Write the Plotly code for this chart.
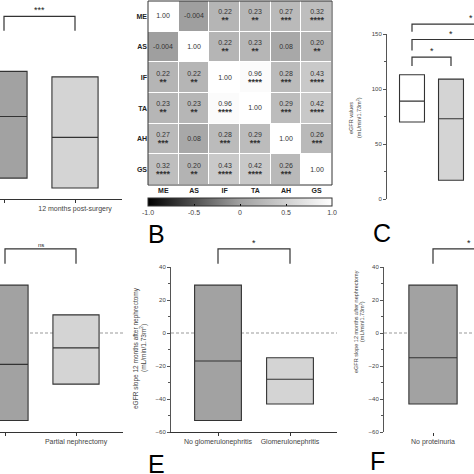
import plotly.graph_objects as go

W = H = 474
FONT = "Liberation Sans, Arial, sans-serif"

# ---------------- data ----------------
a_categories = ["Surgery time", "12 months post-surgery"]
a_min = [19, 10]
a_median = [75, 56]
a_max = [116, 111]

b_labels = ["ME", "AS", "IF", "TA", "AH", "GS"]
b_r = [
    [1.00, -0.004, 0.22, 0.23, 0.27, 0.32],
    [-0.004, 1.00, 0.22, 0.23, 0.08, 0.20],
    [0.22, 0.22, 1.00, 0.96, 0.28, 0.43],
    [0.23, 0.23, 0.96, 1.00, 0.29, 0.42],
    [0.27, 0.08, 0.28, 0.29, 1.00, 0.26],
    [0.32, 0.20, 0.43, 0.42, 0.26, 1.00],
]
b_stars = [
    ["", "", "**", "**", "***", "****"],
    ["", "", "**", "**", "", "**"],
    ["**", "**", "", "****", "***", "****"],
    ["**", "**", "****", "", "***", "****"],
    ["***", "", "***", "***", "", "***"],
    ["****", "**", "****", "****", "***", ""],
]
b_ticks = [-1.0, -0.5, 0, 0.5, 1.0]
b_ticktext = ["-1.0", "-0.5", "0", "0.5", "1.0"]

c_min = [70, 17]
c_median = [89, 73]
c_max = [113, 109]
c_fill = ["#ffffff", "#d4d4d4"]

d_categories = ["Radical surgery", "Partial nephrectomy"]
d_min = [-53, -31]
d_median = [-19, -9]
d_max = [29, 11]

e_categories = ["No glomerulonephritis", "Glomerulonephritis"]
e_min = [-53, -43]
e_median = [-17, -28]
e_max = [29, -15]

f_categories = ["No proteinuria", "Proteinuria"]
f_min = [-43]
f_median = [-15]
f_max = [29]

# brackets: (x0, x1, top, drop, label)
a_brackets = [(0, 1, 166, 153, "***")]
c_brackets = [(0, 1, 129, 121, "*"), (0, 2, 145, 135, "*"), (0, 3, 159, 152, "*")]
d_brackets = [(0, 1, 51, 42, "ns")]
e_brackets = [(0, 1, 51, 42, "*")]
f_brackets = [(0, 1, 51, 42, "*")]

c_title = ["eGFR values", "(mL/min/1.73m<sup>2</sup>)"]
slope_title = ["eGFR slope 12 months after nephrectomy", "(mL/min/1.73m<sup>2</sup>)"]

# ---------------- layout helpers ----------------
def fx(px):
    return px / W

def fy(py):
    return 1 - py / H

DARK = "#a2a2a2"
LIGHT = "#d4d4d4"
LINE = "#333333"
TXT = "#444444"

panels = {
    "A": ("x", "y", (0, 122), (0, 199), [-4 / 71, 118 / 71], [0, 199 / 1.1]),
    "C": ("x3", "y3", (387, 474), (34, 199), [-25 / 39, 62 / 39], [0, 150]),
    "D": ("x4", "y4", (0, 123), (267, 432), [-5 / 71, 118 / 71], [-60, 40]),
    "E": ("x5", "y5", (171, 337), (267, 432), [-47 / 72, 119 / 72], [-60, 40]),
    "F": ("x6", "y6", (384, 474), (267, 432), [-49 / 72, 41 / 72], [-60, 40]),
}

def ypaper(panel, v):
    _, _, _, (ptop, pbot), _, (r0, r1) = panels[panel]
    py = pbot - (v - r0) / (r1 - r0) * (pbot - ptop)
    return fy(py)

fig = go.Figure()

def add_boxes(panel, mins, meds, maxs, fills, width):
    xa, ya = panels[panel][0], panels[panel][1]
    for i in range(len(mins)):
        fig.add_trace(go.Box(
            x=[i], q1=[mins[i]], median=[meds[i]], q3=[maxs[i]],
            lowerfence=[mins[i]], upperfence=[maxs[i]],
            width=width, whiskerwidth=0, fillcolor=fills[i],
            line=dict(color=LINE, width=1.1), boxpoints=False,
            xaxis=xa, yaxis=ya, showlegend=False, hoverinfo="skip"))

add_boxes("A", a_min, a_median, a_max, [DARK, LIGHT], 0.65)
add_boxes("C", c_min, c_median, c_max, c_fill, 0.64)
add_boxes("D", d_min, d_median, d_max, [DARK, LIGHT], 0.65)
add_boxes("E", e_min, e_median, e_max, [DARK, LIGHT], 0.65)
add_boxes("F", f_min, f_median, f_max, [DARK], 0.67)

# heatmap
def fmt(v):
    return f"{v:.3f}" if abs(v) < 0.01 else f"{v:.2f}"

b_text = [[fmt(b_r[i][j]) + ("<br><b><span style='font-size:9px'>" + b_stars[i][j] + "</span></b>" if b_stars[i][j] else "")
           for j in range(6)] for i in range(6)]
fig.add_trace(go.Heatmap(
    z=b_r, x=b_labels, y=b_labels, text=b_text, texttemplate="%{text}",
    textfont=dict(size=7, color="#333333", family=FONT),
    zmin=-1, zmax=1, xgap=1, ygap=1,
    colorscale=[[0, "#000000"], [0.5, "#a0a0a0"], [1, "#ffffff"]],
    colorbar=dict(orientation="h", x=fx(240), xanchor="center", y=fy(198), yanchor="top",
                  lenmode="pixels", len=184, thickness=8, outlinewidth=1, outlinecolor=LINE,
                  tickvals=b_ticks, ticktext=b_ticktext, ticks="inside", ticklen=2,
                  tickcolor="#000", tickfont=dict(size=7, color=TXT, family=FONT),
                  xpad=0, ypad=0),
    xaxis="x2", yaxis="y2", hoverinfo="skip"))

layout_axes = {}
for name, (xa, ya, (px0, px1), (pt, pb), xr, yr) in panels.items():
    xkey = "xaxis" if xa == "x" else "xaxis" + xa[1:]
    ykey = "yaxis" if ya == "y" else "yaxis" + ya[1:]
    layout_axes[xkey] = dict(domain=[fx(px0), min(1, fx(px1))], range=xr, anchor=ya,
                             showgrid=False, zeroline=False, fixedrange=True, automargin=False)
    layout_axes[ykey] = dict(domain=[fy(pb), fy(pt)], range=yr, anchor=xa,
                             showgrid=False, zeroline=False, fixedrange=True, automargin=False)

cats = {"A": a_categories, "D": d_categories, "E": e_categories, "F": f_categories}
for name in ["A", "D", "E", "F"]:
    xa = panels[name][0]
    xkey = "xaxis" if xa == "x" else "xaxis" + xa[1:]
    layout_axes[xkey].update(
        tickvals=list(range(len(cats[name]))), ticktext=cats[name],
        showline=(name != "F"), linecolor=LINE, linewidth=1, ticks="outside",
        ticklen=3, tickcolor=LINE, tickfont=dict(size=7, color=TXT, family=FONT))
layout_axes["xaxis3"].update(visible=False)
layout_axes["yaxis"].update(visible=False)
layout_axes["yaxis4"].update(visible=False)
layout_axes["yaxis3"].update(
    showline=True, linecolor="#555", linewidth=1, ticks="outside", ticklen=3,
    tickcolor="#555", tickvals=[0, 50, 100, 150],
    minor=dict(tickvals=[25, 75, 125], ticks="outside", ticklen=2, tickcolor="#555"),
    tickfont=dict(size=6, color=TXT, family=FONT))
for k in ["yaxis5", "yaxis6"]:
    layout_axes[k].update(
        showline=True, linecolor="#555", linewidth=1, ticks="outside", ticklen=3,
        tickcolor="#555", tickvals=[-60, -40, -20, 0, 20, 40],
        minor=dict(tickvals=[-50, -30, -10, 10, 30], ticks="outside", ticklen=2, tickcolor="#555"),
        tickfont=dict(size=6, color=TXT, family=FONT))

layout_axes["xaxis2"] = dict(domain=[fx(148), fx(332)], anchor="y2", side="bottom",
                             showgrid=False, zeroline=False, ticks="", showline=False, automargin=False,
                             tickvals=b_labels, ticktext=["<b>" + l + "</b>" for l in b_labels],
                             tickfont=dict(size=7, color="#222", family=FONT))
layout_axes["yaxis2"] = dict(domain=[fy(185), fy(1)], anchor="x2", autorange="reversed",
                             showgrid=False, zeroline=False, ticks="", showline=False, automargin=False,
                             tickvals=b_labels, ticktext=["<b>" + l + "</b>" for l in b_labels],
                             tickfont=dict(size=7, color="#222", family=FONT))

shapes = []
annotations = []

shapes.append(dict(type="rect", xref="x2 domain", yref="y2 domain", x0=0, x1=1, y0=0, y1=1,
                   line=dict(color=LINE, width=1)))

for name in ["D", "E", "F"]:
    xa, ya = panels[name][0], panels[name][1]
    shapes.append(dict(type="line", xref=xa + " domain", yref=ya, x0=0, x1=1, y0=0, y1=0,
                       line=dict(color="#999999", width=1, dash="3px,2px"), layer="below"))

def add_brackets(name, brs, size):
    xa = panels[name][0]
    for (x0, x1, top, drop, lab) in brs:
        yt = ypaper(name, top)
        yd = ypaper(name, drop)
        shapes.append(dict(type="path", xref=xa, yref="paper",
                           path=f"M {x0},{yd} L {x0},{yt} L {x1},{yt} L {x1},{yd}",
                           line=dict(color=LINE, width=1.2)))
        annotations.append(dict(x=(x0 + x1) / 2, y=yt, xref=xa, yref="paper", text=lab,
                                showarrow=False, yanchor="bottom", yshift=-1,
                                font=dict(size=size if lab != "ns" else 6, color="#222", family=FONT)))

add_brackets("A", a_brackets, 9)
add_brackets("C", c_brackets, 9)
add_brackets("D", d_brackets, 9)
add_brackets("E", e_brackets, 9)
add_brackets("F", f_brackets, 9)

def vtitle(px_lines, py, lines, size):
    for px, t in zip(px_lines, lines):
        annotations.append(dict(x=fx(px), y=fy(py), xref="paper", yref="paper", text=t,
                                textangle=-90, showarrow=False, xanchor="center", yanchor="middle",
                                font=dict(size=size, color=TXT, family=FONT)))

vtitle([351, 359], 118, c_title, 5.5)
vtitle([136, 143], 348, slope_title, 6.5)
vtitle([356, 362], 322, slope_title, 5.5)

for lab, px, py in [("B", 146, 234), ("C", 371, 233), ("E", 146, 464), ("F", 368, 461)]:
    annotations.append(dict(x=fx(px), y=fy(py), xref="paper", yref="paper", text=lab,
                            showarrow=False, xanchor="left", yanchor="middle",
                            font=dict(size=25, color="#000", family=FONT)))

fig.update_layout(width=W, height=H, margin=dict(l=0, r=0, t=0, b=0, autoexpand=False),
                  paper_bgcolor="white", plot_bgcolor="rgba(0,0,0,0)",
                  font=dict(family=FONT), showlegend=False,
                  shapes=shapes, annotations=annotations, **layout_axes)

fig.write_html("out.html", config={"displayModeBar": False},
               post_script="document.body.style.margin='0';document.body.style.overflow='hidden';")
